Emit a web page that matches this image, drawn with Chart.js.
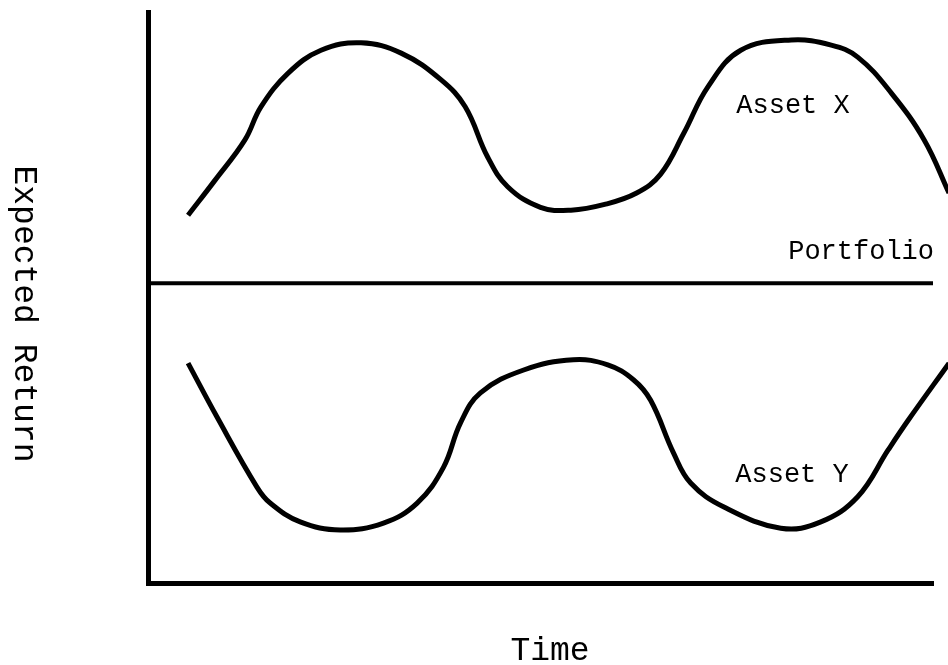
<!DOCTYPE html>
<html>
<head>
<meta charset="utf-8">
<script src="https://cdn.jsdelivr.net/npm/chart.js@4/dist/chart.umd.min.js"></script>
<style>
  html, body { margin: 0; padding: 0; background: #fff; }
  #wrap { width: 948px; height: 665px; }
</style>
</head>
<body>
<div id="wrap"><canvas id="chart" width="948" height="665"></canvas></div>
<script>
// time on x (0 - 100), expected return on y (0 - 100)
var timeX = [5.0, 8.4, 12.1, 14.1, 17.5, 21.6, 26.6, 31.6, 36.6, 39.6, 42.4, 44.9, 49.0, 52.8, 57.0, 61.0, 64.0, 66.9, 69.9, 74.0, 80.3, 85.3, 88.6, 92.8, 96.9, 100];
var returnX = [64.4, 70.6, 77.6, 83.4, 89.3, 93.3, 94.6, 92.8, 88.1, 83.4, 74.6, 69.4, 65.8, 65.3, 66.3, 68.3, 71.6, 78.8, 86.9, 93.3, 95.1, 94.2, 92.1, 85.8, 77.6, 68.3];

var timeY = [5.0, 8.6, 13.6, 15.25, 19.0, 24.0, 29.4, 33.6, 36.9, 39.0, 41.5, 46.9, 53.1, 57.4, 60.6, 62.75, 65.6, 67.75, 71.9, 79.0, 84.0, 88.6, 92.4, 94.9, 100];
var returnY = [38.5, 29.1, 16.8, 14.0, 10.7, 9.3, 10.5, 14.0, 20.3, 28.0, 33.3, 37.3, 39.1, 38.2, 35.6, 32.0, 22.8, 17.5, 13.3, 9.6, 10.7, 15.1, 23.3, 28.5, 38.5];

var timeP = [0, 98];
var returnP = [52.5, 52.5];

var seriesNames = ["Asset X", "Asset Y", "Portfolio"];
var xTitle = "Time";
var yTitle = "Expected Return";

function pts(xs, ys) {
  return xs.map(function (x, i) { return {x: x, y: ys[i]}; });
}

var font = '"Liberation Mono", "Courier New", monospace';

var labelPlugin = {
  id: 'labels',
  afterDraw: function (chart) {
    var ctx = chart.ctx;
    ctx.save();
    ctx.fillStyle = '#000';
    ctx.textBaseline = 'middle';

    ctx.font = '27px ' + font;
    ctx.textAlign = 'center';
    ctx.fillText(seriesNames[0], 793, 106);
    ctx.fillText(seriesNames[1], 792, 475);
    ctx.textAlign = 'right';
    ctx.fillText(seriesNames[2], 934, 252);

    ctx.font = '33px ' + font;
    ctx.textAlign = 'center';
    ctx.fillText(xTitle, 550, 651);

    ctx.translate(24, 314);
    ctx.rotate(Math.PI / 2);
    ctx.fillText(yTitle, 0, 0);
    ctx.restore();
  }
};

var line = {
  borderColor: '#000',
  borderWidth: 5,
  pointRadius: 0,
  fill: false,
  clip: false,
  tension: 0.4
};

var chart = new Chart(document.getElementById('chart'), {
  type: 'line',
  data: {
    datasets: [
      Object.assign({label: seriesNames[0], data: pts(timeX, returnX)}, line),
      Object.assign({label: seriesNames[1], data: pts(timeY, returnY)}, line),
      Object.assign({label: seriesNames[2], data: pts(timeP, returnP)}, line, {borderWidth: 4, tension: 0})
    ]
  },
  options: {
    responsive: false,
    animation: false,
    devicePixelRatio: 1,
    layout: { padding: { left: 148, top: 12, right: 15, bottom: 82 } },
    plugins: { legend: { display: false }, tooltip: { enabled: false } },
    scales: {
      x: {
        type: 'linear', min: 0, max: 98,
        ticks: { display: false },
        grid: { display: false, drawTicks: false },
        border: { color: '#000', width: 5 }
      },
      y: {
        min: 0, max: 100,
        ticks: { display: false },
        grid: { display: false, drawTicks: false },
        border: { color: '#000', width: 5 }
      }
    }
  },
  plugins: [labelPlugin]
});
</script>
</body>
</html>
